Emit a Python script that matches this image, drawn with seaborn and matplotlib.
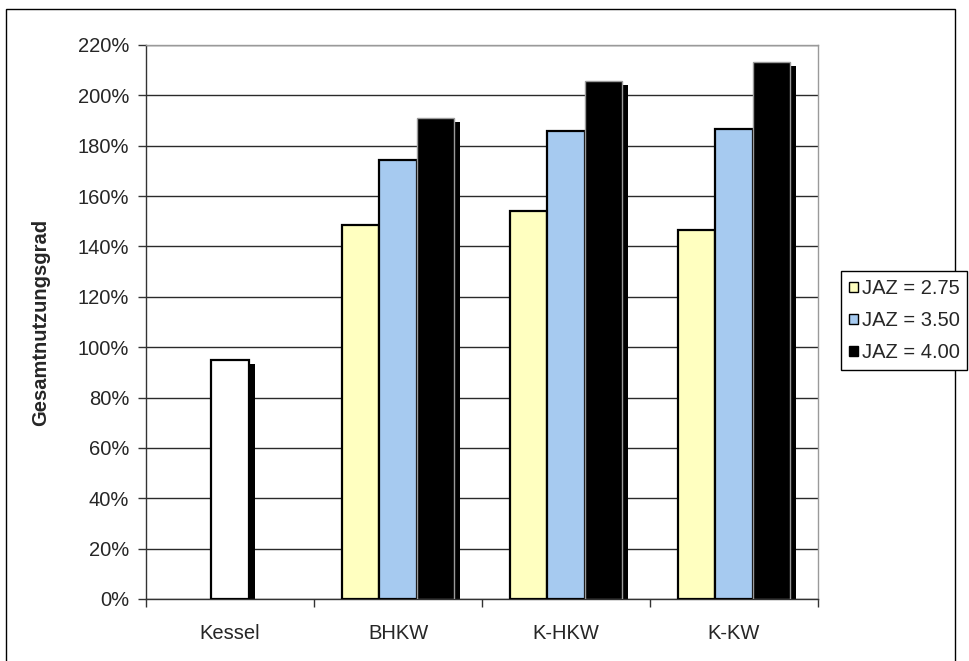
import numpy as np
import pandas as pd
import matplotlib
matplotlib.use("Agg")
import matplotlib.pyplot as plt
import matplotlib.transforms as mtransforms
from matplotlib.patches import Rectangle, Patch
from matplotlib.ticker import FuncFormatter, FixedLocator
import seaborn as sns

# --- data -------------------------------------------------------------
categories = ["Kessel", "BHKW", "K-HKW", "K-KW"]
series = ["JAZ = 2.75", "JAZ = 3.50", "JAZ = 4.00"]
jaz_275 = [np.nan, 1.487, 1.542, 1.466]
jaz_350 = [0.950, 1.743, 1.857, 1.866]
jaz_400 = [np.nan, 1.910, 2.058, 2.131]
y_ticks = [0.0, 0.2, 0.4, 0.6, 0.8, 1.0, 1.2, 1.4, 1.6, 1.8, 2.0, 2.2]

colors = ["#FFFFC0", "#A6CAF0", "#000000"]

rows = []
for s, vals in zip(series, [jaz_275, jaz_350, jaz_400]):
    for c, v in zip(categories, vals):
        rows.append({"Anlage": c, "JAZ": s, "Wert": v})
df = pd.DataFrame(rows).dropna()

sns.set_theme(style="white")
plt.rcParams["font.family"] = ["Liberation Sans", "DejaVu Sans"]

FS = 14.5
W, H = 969, 661
fig = plt.figure(figsize=(W / 100, H / 100), dpi=100)
ax = fig.add_axes([146 / W, 1 - 599 / H, (818 - 146) / W, (599 - 45) / H])

sns.barplot(data=df, x="Anlage", y="Wert", hue="JAZ", order=categories,
            hue_order=series, palette=colors, saturation=1, width=0.667,
            gap=0, edgecolor="black", linewidth=1.6, legend=False,
            errorbar=None, ax=ax, zorder=3)

# boiler bar is drawn white; black series gets a light edge
kessel_x = categories.index("Kessel")
for cont, s in zip(ax.containers, series):
    for p in cont.patches:
        cx = p.get_x() + p.get_width() / 2
        if abs(cx - kessel_x) < 0.3:
            p.set_facecolor("white")
        if s == series[2]:
            p.set_edgecolor("#9a9a9a")
            p.set_linewidth(1.0)

# drop shadows offset right/down
shadow_tr = ax.transData + mtransforms.ScaledTranslation(6 / 100, -4 / 100, fig.dpi_scale_trans)
for p in list(ax.patches):
    h = p.get_height()
    if not np.isfinite(h) or h <= 0:
        continue
    ax.add_patch(Rectangle((p.get_x(), p.get_y()), p.get_width(), h,
                           facecolor="black", edgecolor="none",
                           transform=shadow_tr, zorder=2.5))

ax.set_xlim(-0.5, len(categories) - 0.5)
ax.set_ylim(0, 2.2)
ax.yaxis.set_major_locator(FixedLocator(y_ticks))
ax.yaxis.set_major_formatter(FuncFormatter(lambda v, _: f"{v * 100:.0f}%"))
ax.grid(axis="y", color="#2a2a2a", linewidth=1.0, zorder=0)
ax.set_axisbelow(True)

ax.set_xticks(range(len(categories)))
ax.set_xticklabels(categories)
ax.set_xticks(np.arange(-0.5, len(categories)), minor=True)
ax.tick_params(axis="x", which="major", length=0, pad=18, labelsize=FS)
ax.tick_params(axis="x", which="minor", length=6, width=1, color="#333333",
               direction="out", bottom=True)
ax.tick_params(axis="y", length=6, width=1, color="#333333", direction="out",
               left=True, labelsize=FS, pad=6)

for side in ["left", "bottom"]:
    ax.spines[side].set_color("#333333")
    ax.spines[side].set_linewidth(1.0)
for side in ["right", "top"]:
    ax.spines[side].set_color("#9a9a9a")
    ax.spines[side].set_linewidth(1.0)

ax.set_xlabel("")
ax.set_ylabel("Gesamtnutzungsgrad", fontsize=FS, fontweight="bold", labelpad=20)

handles = [Patch(facecolor=c, edgecolor="black", linewidth=1.0) for c in colors]
leg = fig.legend(handles, series, loc="upper left",
                 bbox_to_anchor=(841 / W, 1 - 271 / H), frameon=True,
                 fancybox=False, framealpha=1, edgecolor="black",
                 fontsize=FS, handlelength=0.42, handleheight=0.42,
                 handletextpad=0.2, labelspacing=0.65, borderpad=0.4,
                 borderaxespad=0)
leg.get_frame().set_linewidth(1.0)

# outer chart border
fig.patches.append(Rectangle((6 / W, -0.05), (955 - 6) / W, 1.05 - 9 / H,
                             transform=fig.transFigure, fill=False,
                             edgecolor="black", linewidth=1.0))

fig.savefig("out.png", dpi=100)
